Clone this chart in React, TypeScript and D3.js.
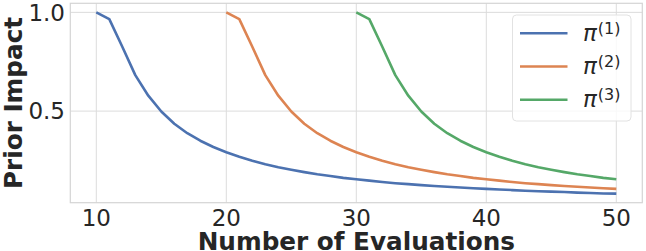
import * as d3 from 'd3';

// Evaluation counts and prior impact for each prior
const evals1 = d3.range(10, 51);
const prior1 = [
  1.0, 0.966, 0.826, 0.682, 0.578, 0.498, 0.436, 0.388, 0.35, 0.318,
  0.292, 0.269, 0.249, 0.231, 0.216, 0.203, 0.191, 0.18, 0.171, 0.162,
  0.155, 0.148, 0.141, 0.135, 0.13, 0.125, 0.121, 0.117, 0.113, 0.109,
  0.106, 0.103, 0.1, 0.097, 0.094, 0.092, 0.09, 0.087, 0.085, 0.083,
  0.082,
];

const evals2 = d3.range(20, 51);
const prior2 = [
  1.0, 0.966, 0.826, 0.682, 0.578, 0.498, 0.436, 0.388, 0.35, 0.318,
  0.292, 0.269, 0.249, 0.231, 0.216, 0.203, 0.191, 0.18, 0.171, 0.162,
  0.155, 0.148, 0.141, 0.135, 0.13, 0.125, 0.121, 0.117, 0.113, 0.109,
  0.106,
];

const evals3 = d3.range(30, 51);
const prior3 = [
  1.0, 0.966, 0.826, 0.682, 0.578, 0.498, 0.436, 0.388, 0.35, 0.318,
  0.292, 0.269, 0.249, 0.231, 0.216, 0.203, 0.191, 0.18, 0.171, 0.162,
  0.155,
];

const seriesNames = ['1', '2', '3'];
const seriesColors = ['#4C72B0', '#DD8452', '#55A868'];
const xTicks = [10, 20, 30, 40, 50];
const yTicks = [0.5, 1.0];

const width = 646;
const height = 251;
const marginLeft = 70.3;
const marginRight = 3.7;
const marginTop = 3.3;
const marginBottom = 48.3;
const textColor = '#262626';
const gridColor = '#dcdcdc';
const font = '"DejaVu Sans", sans-serif';

export default function App() {
  const series = [
    { xs: evals1, ys: prior1 },
    { xs: evals2, ys: prior2 },
    { xs: evals3, ys: prior3 },
  ];

  // matplotlib-like 5% margins around the data
  const allX = [...evals1, ...evals2, ...evals3];
  const allY = [...prior1, ...prior2, ...prior3];
  const [x0, x1] = d3.extent(allX) as [number, number];
  const [y0, y1] = d3.extent(allY) as [number, number];
  const padX = (x1 - x0) * 0.05;
  const padY = (y1 - y0) * 0.05;

  const x = d3.scaleLinear()
    .domain([x0 - padX, x1 + padX])
    .range([marginLeft, width - marginRight]);
  const y = d3.scaleLinear()
    .domain([y0 - padY, y1 + padY])
    .range([height - marginBottom, marginTop]);

  const line = d3.line<[number, number]>()
    .x((d) => x(d[0]))
    .y((d) => y(d[1]));

  const plotW = width - marginLeft - marginRight;
  const plotH = height - marginTop - marginBottom;

  return (
    <svg
      width={width}
      height={height}
      style={{ position: 'absolute', left: 0, top: 0, background: '#fff' }}
      fontFamily={font}
    >
      <rect x={marginLeft} y={marginTop} width={plotW} height={plotH} fill="#fff" />

      {/* grid */}
      {xTicks.map((t) => (
        <line key={`gx${t}`} x1={x(t)} x2={x(t)} y1={marginTop} y2={height - marginBottom}
          stroke={gridColor} strokeWidth={1} />
      ))}
      {yTicks.map((t) => (
        <line key={`gy${t}`} x1={marginLeft} x2={width - marginRight} y1={y(t)} y2={y(t)}
          stroke={gridColor} strokeWidth={1} />
      ))}

      {/* spines */}
      <rect x={marginLeft} y={marginTop} width={plotW} height={plotH}
        fill="none" stroke="#d4d4d4" strokeWidth={1.2} />

      {/* lines */}
      {series.map((s, i) => (
        <path
          key={i}
          d={line(s.xs.map((v, j) => [v, s.ys[j]] as [number, number])) ?? ''}
          fill="none"
          stroke={seriesColors[i]}
          strokeWidth={2.6}
          strokeLinejoin="round"
          strokeLinecap="butt"
        />
      ))}

      {/* tick labels */}
      {xTicks.map((t) => (
        <text key={`tx${t}`} x={x(t)} y={225.7} textAnchor="middle" fontSize={23} fill={textColor}>
          {t}
        </text>
      ))}
      {yTicks.map((t) => (
        <text key={`ty${t}`} x={65} y={y(t)} dy="0.36em" textAnchor="end" fontSize={23} fill={textColor}>
          {t.toFixed(1)}
        </text>
      ))}

      {/* axis labels */}
      <text
        x={marginLeft + plotW / 2}
        y={250.3}
        textAnchor="middle"
        fontSize={24.7}
        fontWeight="bold"
        fill={textColor}
      >
        Number of Evaluations
      </text>
      <text
        transform={`translate(22.2,${marginTop + plotH / 2}) rotate(-90)`}
        textAnchor="middle"
        fontSize={24.7}
        fontWeight="bold"
        fill={textColor}
      >
        Prior Impact
      </text>

      {/* legend */}
      <g>
        <rect x={512.5} y={15} width={118.5} height={106} rx={4}
          fill="#fff" fillOpacity={0.8} stroke="#e2e2e2" strokeWidth={1} />
        {seriesNames.map((n, i) => {
          const ly = 33.3 + i * 33.2;
          return (
            <g key={n}>
              <line x1={520} x2={567.5} y1={ly} y2={ly} stroke={seriesColors[i]} strokeWidth={2.6} />
              <text x={583} y={ly + 7.7} fontSize={23} fill={textColor}>
                <tspan fontStyle="italic">π</tspan>
                <tspan fontSize={16} dy={-7.3} dx={1}>({n})</tspan>
              </text>
            </g>
          );
        })}
      </g>
    </svg>
  );
}
